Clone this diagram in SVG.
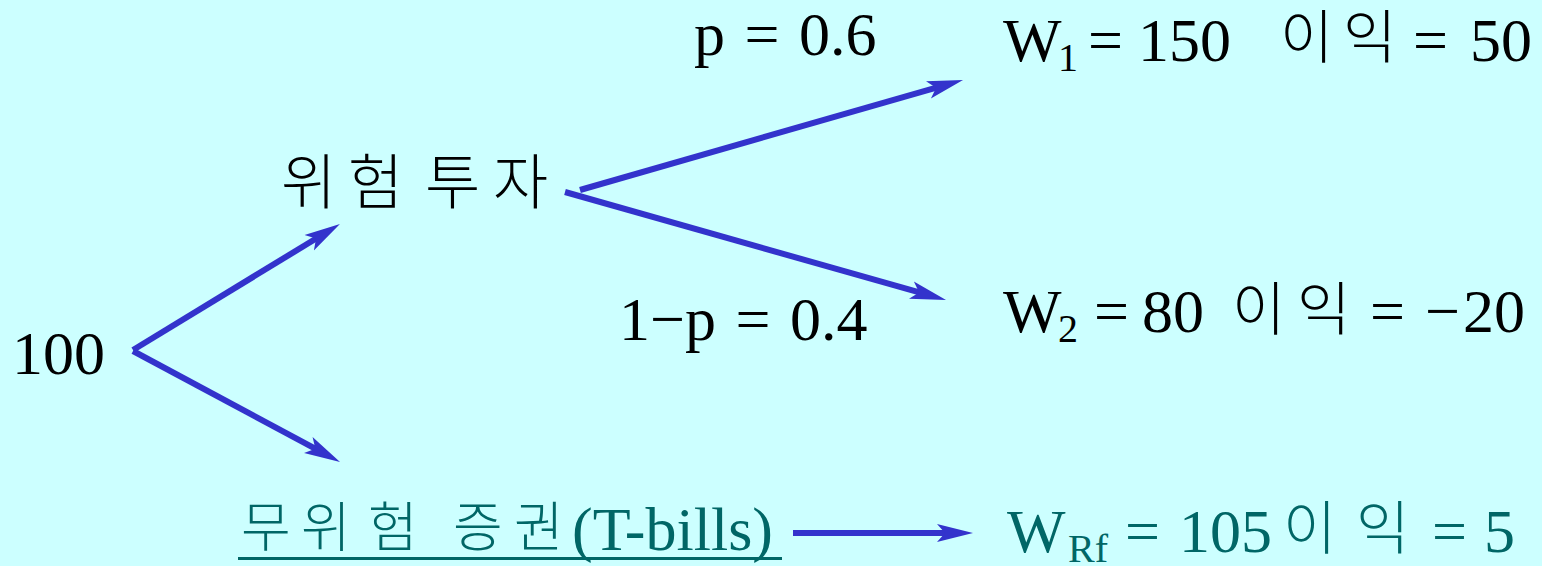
<svg xmlns="http://www.w3.org/2000/svg" width="1542" height="566" viewBox="0 0 1542 566">
<style>
.t{font-family:"Liberation Serif","Times New Roman",serif;font-size:62px;fill:#000}
.k{font-family:"Noto Sans CJK KR",sans-serif;font-weight:300}
.k60{font-size:60px}
.k58{font-size:58px}
.k54{font-size:54px}
.sub{font-size:40px}
.teal{fill:#006666}
.ln{stroke:#3333CC;stroke-width:6;fill:none}
</style>
<defs>
<marker id="ah" markerUnits="userSpaceOnUse" markerWidth="40" markerHeight="20" refX="11" refY="10" orient="auto">
<path d="M0,1 L36,10 L0,19 L8,10 Z" fill="#3333CC"/>
</marker>
</defs>
<rect width="1542" height="566" fill="#CCFFFF"/>
<g id="connectors">
<line class="ln" x1="133" y1="350" x2="318.6" y2="237" marker-end="url(#ah)"/>
<line class="ln" x1="133" y1="351" x2="318" y2="450.2" marker-end="url(#ah)"/>
<line class="ln" x1="580" y1="190" x2="939" y2="86.9" marker-end="url(#ah)"/>
<line class="ln" x1="565" y1="192" x2="922" y2="293.2" marker-end="url(#ah)"/>
<line class="ln" x1="793" y1="533" x2="948" y2="533" marker-end="url(#ah)"/>
</g>
<g id="start"><text class="t" x="12" y="374">100</text></g>
<g id="risky"><text class="t k k60" x="281 348 399 425 493" y="204">위험 투자</text></g>
<g id="p1"><text class="t" x="694" y="55" word-spacing="4">p = 0.6</text></g>
<g id="p2"><text class="t" x="619" y="340" word-spacing="4">1−p = 0.4</text></g>
<g id="w1">
<text class="t" y="61"><tspan x="1003">W</tspan><tspan class="sub" x="1058" y="71">1</tspan><tspan x="1088" y="61">=</tspan><tspan x="1138">150</tspan><tspan x="1413">=</tspan><tspan x="1470">50</tspan></text>
<text class="t k k58" x="1280 1343" y="58">이익</text>
</g>
<g id="w2">
<text class="t" y="332"><tspan x="1003">W</tspan><tspan class="sub" x="1058" y="342">2</tspan><tspan x="1094" y="332">=</tspan><tspan x="1142">80</tspan><tspan x="1370">=</tspan><tspan x="1425">−</tspan><tspan x="1463">20</tspan></text>
<text class="t k k58" x="1232 1297" y="330">이익</text>
</g>
<g id="riskfree">
<text class="t k k54 teal" x="241 301 368 420 453 514" y="547">무위험 증권</text>
<text class="t teal" x="572" y="550">(T-bills)</text>
<line x1="238" y1="558.5" x2="782" y2="558.5" stroke="#006666" stroke-width="3"/>
</g>
<g id="wrf">
<text class="t teal" y="552"><tspan x="1007">W</tspan><tspan class="sub" x="1068" y="562">Rf</tspan><tspan x="1125" y="552">=</tspan><tspan x="1179">105</tspan><tspan x="1432">=</tspan><tspan x="1484">5</tspan></text>
<text class="t k k58 teal" x="1283 1356" y="549">이익</text>
</g>
</svg>
